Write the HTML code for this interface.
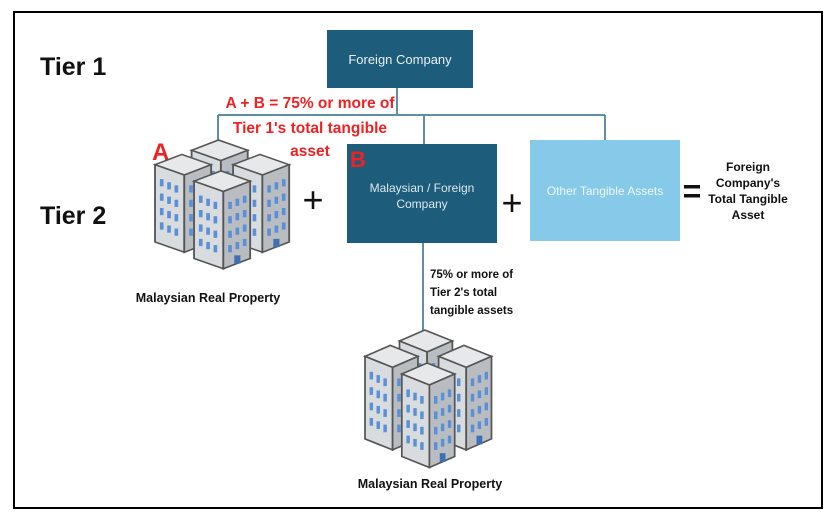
<!DOCTYPE html>
<html><head><meta charset="utf-8"><style>
body{margin:0;background:#fff;}
svg{display:block;font-family:"Liberation Sans",sans-serif;}
</style></head><body>
<svg width="836" height="522" viewBox="0 0 836 522" xmlns="http://www.w3.org/2000/svg">
<defs>
<g id="tw">
 <polygon points="0,10 22,0 46,10 24,20" fill="#e6e8ea" stroke="#555" stroke-width="1.5"/>
 <polygon points="0,10 24,20 24,95 0,85" fill="#d9dcdf" stroke="#555" stroke-width="1.5"/>
 <polygon points="24,20 46,10 46,85 24,95" fill="#b9bdc2" stroke="#555" stroke-width="1.5"/>
 <g fill="#5b8fd6">
  <rect x="4" y="24" width="3" height="7"/><rect x="10" y="27" width="3" height="7"/><rect x="16" y="30" width="3" height="7"/>
  <rect x="4" y="38" width="3" height="7"/><rect x="10" y="41" width="3" height="7"/><rect x="16" y="44" width="3" height="7"/>
  <rect x="4" y="52" width="3" height="7"/><rect x="10" y="55" width="3" height="7"/><rect x="16" y="58" width="3" height="7"/>
  <rect x="4" y="66" width="3" height="7"/><rect x="10" y="69" width="3" height="7"/><rect x="16" y="72" width="3" height="7"/>
  <rect x="28" y="30" width="3" height="7"/><rect x="34" y="27" width="3" height="7"/><rect x="40" y="24" width="3" height="7"/>
  <rect x="28" y="44" width="3" height="7"/><rect x="34" y="41" width="3" height="7"/><rect x="40" y="38" width="3" height="7"/>
  <rect x="28" y="58" width="3" height="7"/><rect x="34" y="55" width="3" height="7"/><rect x="40" y="52" width="3" height="7"/>
  <rect x="28" y="72" width="3" height="7"/><rect x="34" y="69" width="3" height="7"/><rect x="40" y="66" width="3" height="7"/>
  <rect x="33" y="82" width="5" height="8" fill="#3f6fb5"/>
 </g>
</g>
<g id="grp">
 <use href="#tw" x="22" y="0"/>
 <use href="#tw" x="-8" y="14"/>
 <use href="#tw" x="56" y="14"/>
 <use href="#tw" x="24" y="30"/>
</g>
</defs>
<rect x="14" y="12" width="808" height="496" fill="#fff" stroke="#000" stroke-width="2"/>
<text x="40" y="75" font-size="25" font-weight="bold" fill="#111">Tier 1</text>
<text x="40" y="224" font-size="25" font-weight="bold" fill="#111">Tier 2</text>
<g stroke="#5f8fa8" stroke-width="2" fill="none">
 <line x1="397" y1="88" x2="397" y2="115"/>
 <line x1="218" y1="115" x2="605" y2="115"/>
 <line x1="218" y1="115" x2="218" y2="142"/>
 <line x1="424" y1="115" x2="424" y2="144"/>
 <line x1="605" y1="115" x2="605" y2="140"/>
 <line x1="423" y1="243" x2="423" y2="332"/>
</g>
<rect x="327" y="30" width="146" height="58" fill="#1d5d7b"/>
<text x="400" y="64" font-size="13" fill="#e8f0f4" text-anchor="middle">Foreign Company</text>
<rect x="347" y="144" width="150" height="99" fill="#1d5d7b"/>
<text x="422" y="192" font-size="12" fill="#dce8ee" text-anchor="middle">Malaysian / Foreign</text>
<text x="422" y="208" font-size="12" fill="#dce8ee" text-anchor="middle">Company</text>
<rect x="530" y="140" width="150" height="101" fill="#86c9e8"/>
<text x="605" y="195" font-size="12" fill="#eef7fb" text-anchor="middle">Other Tangible Assets</text>
<g font-weight="bold" fill="#ee2222" text-anchor="middle" font-size="15.5">
 <text x="310" y="108">A + B = 75% or more of</text>
 <text x="310" y="133">Tier 1's total tangible</text>
 <text x="310" y="156">asset</text>
</g>
<text x="152" y="160" font-size="24" font-weight="bold" fill="#ee2222">A</text>
<text x="350" y="167" font-size="22" font-weight="bold" fill="#ee2222">B</text>
<text x="313" y="212" font-size="36" fill="#111" text-anchor="middle">+</text>
<text x="512" y="215" font-size="36" fill="#111" text-anchor="middle">+</text>
<text x="692" y="202" font-size="32" font-weight="bold" fill="#111" text-anchor="middle">=</text>
<g font-size="12" font-weight="bold" fill="#111" text-anchor="middle">
 <text x="748" y="171">Foreign</text>
 <text x="748" y="187">Company's</text>
 <text x="748" y="203">Total Tangible</text>
 <text x="748" y="219">Asset</text>
</g>
<g transform="translate(155,140) scale(1.22,1.03)"><use href="#grp" x="8" y="0"/></g>
<text x="208" y="302" font-size="12.5" font-weight="bold" fill="#111" text-anchor="middle">Malaysian Real Property</text>
<g font-size="11.5" font-weight="bold" fill="#111">
 <text x="430" y="278">75% or more of</text>
 <text x="430" y="296">Tier 2's total</text>
 <text x="430" y="314">tangible assets</text>
</g>
<g transform="translate(365,330) scale(1.15,1.1)"><use href="#grp" x="8" y="0"/></g>
<text x="430" y="488" font-size="12.5" font-weight="bold" fill="#111" text-anchor="middle">Malaysian Real Property</text>
</svg>
</body></html>
